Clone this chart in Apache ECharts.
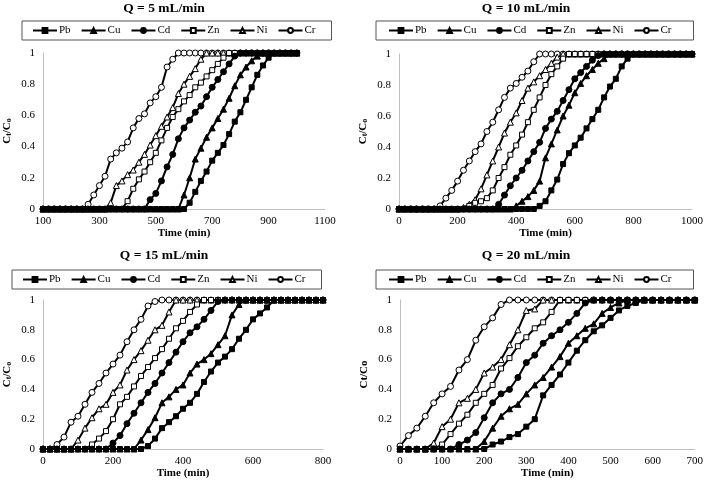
<!DOCTYPE html>
<html><head><meta charset="utf-8">
<script src="https://cdn.jsdelivr.net/npm/echarts@6/dist/echarts.min.js"></script>
<style>html,body{margin:0;padding:0;background:#fff}#c{width:706px;height:485px}</style>
</head><body><div id="c"></div>
<script>
// ---- categories / legend ----
const metals = ['Pb','Cu','Cd','Zn','Ni','Cr'];
const titles = ['Q = 5 mL/min','Q = 10 mL/min','Q = 15 mL/min','Q = 20 mL/min'];

// ---- sampling times (min) ----
const t5 = [100,120,140,160,180,200,220,240,260,280,300,320,340,360,380,400,420,440,460,480,500,520,540,560,580,600,620,640,660,680,700,720,740,760,780,800,820,840,860,880,900,920,940,960,980,1000];
const t10 = [0,20,40,60,80,100,120,140,160,180,200,220,240,260,280,300,320,340,360,380,400,420,440,460,480,500,520,540,560,580,600,620,640,660,680,700,720,740,760,780,800,820,840,860,880,900,920,940,960,980,1000];
const t15 = [0,20,40,60,80,100,120,140,160,180,200,220,240,260,280,300,320,340,360,380,400,420,440,460,480,500,520,540,560,580,600,620,640,660,680,700,720,740,760,780,800];
const t20 = [0,20,40,60,80,100,120,140,160,180,200,220,240,260,280,300,320,340,360,380,400,420,440,460,480,500,520,540,560,580,600,620,640,660,680,700];

// ---- Q = 5 mL/min : Ct/Co ----
const pb5 = [0,0,0,0,0,0,0,0,0,0, 0,0,0,0,0,0,0,0,0,0, 0,0,0,0,0,0,
  0.04,0.11,0.18,0.24,0.31,0.36,0.41,0.48,0.56,0.62,0.70,0.78,0.86,0.92,0.97,1, 1,1,1,1];
const cu5 = [0,0,0,0,0,0,0,0,0,0, 0,0,0,0,0,0,0,0,0,0, 0,0,0,0,0,
  0.09,0.20,0.32,0.39,0.46,0.52,0.58,0.64,0.71,0.79,0.86,0.91,0.95,0.98,1, 1,1,1,1,1,1];
const cd5 = [0,0,0,0,0,0,0,0,0,0, 0,0,0,0,0,0,0,0,0,
  0.06,0.10,0.18,0.27,0.35,0.45,0.52,0.57,0.62,0.66,0.72,0.78,0.83,0.88,0.93,0.98,1, 1,1,1,1,1,1,1,1,1,1];
const zn5 = [0,0,0,0,0,0,0,0,0,0, 0,0,0,0,0,
  0.05,0.13,0.19,0.24,0.30,0.36,0.44,0.52,0.59,0.64,0.69,0.73,0.78,0.81,0.85,0.89,0.93,0.97,1, 1,1,1,1,1,1,1,1,1,1,1,1];
const ni5 = [0,0,0,0,0,0,0,0,0,0, 0,0,
  0.04,0.15,0.18,0.22,0.25,0.30,0.35,0.41,0.47,0.53,0.59,0.65,0.74,0.80,0.85,0.90,0.96,1, 1,1,1,1,1,1,1,1,1,1,1,1,1,1,1,1];
const cr5 = [0,0,0,0,0,0,0,0,
  0.03,0.09,0.15,0.21,0.32,0.36,0.39,0.43,0.52,0.58,0.61,0.68,0.72,0.78,0.91,0.96,1, 1,1,1,1,1,1,1,1,1,1,1,1,1,1,1,1,1,1,1,1,1];

// ---- Q = 10 mL/min ----
const pb10 = [0,0,0,0,0,0,0,0,0,0, 0,0,0,0,0,0,0,0,0,0, 0,0,0,0,
  0.02,0.05,0.12,0.19,0.29,0.36,0.41,0.46,0.52,0.58,0.64,0.72,0.79,0.84,0.92,0.97,1, 1,1,1,1,1,1,1,1,1,1];
const cu10 = [0,0,0,0,0,0,0,0,0,0, 0,0,0,0,0,0,0,0,0,0,
  0.02,0.05,0.08,0.12,0.18,0.33,0.42,0.51,0.60,0.67,0.75,0.81,0.86,0.90,0.94,0.97,1, 1,1,1,1,1,1,1,1,1,1,1,1,1,1];
const cd10 = [0,0,0,0,0,0,0,0,0,0, 0,0,0,0,0,0,0,
  0.03,0.09,0.15,0.20,0.25,0.31,0.37,0.43,0.52,0.58,0.63,0.70,0.77,0.84,0.88,0.92,0.96,0.99,1, 1,1,1,1,1,1,1,1,1,1,1,1,1,1,1];
const zn10 = [0,0,0,0,0,0,0,0,0,0, 0,0,
  0.02,0.04,0.05,0.07,0.12,0.20,0.27,0.35,0.41,0.48,0.56,0.64,0.72,0.80,0.87,0.92,0.97,1, 1,1,1,1,1,1,1,1,1,1,1,1,1,1,1,1,1,1,1,1,1];
const ni10 = [0,0,0,0,0,0,0,0,0,0, 0,
  0.01,0.03,0.06,0.13,0.22,0.31,0.40,0.49,0.56,0.62,0.70,0.78,0.82,0.86,0.90,0.94,0.98,1, 1,1,1,1,1,1,1,1,1,1,1,1,1,1,1,1,1,1,1,1,1,1];
const cr10 = [0,0,0,0,0,0,0,
  0.02,0.07,0.12,0.18,0.25,0.31,0.37,0.42,0.50,0.56,0.64,0.72,0.78,0.81,0.85,0.89,0.95,1, 1,1,1,1,1,1,1,1,1,1,1,1,1,1,1,1,1,1,1,1,1,1,1,1,1,1];

// ---- Q = 15 mL/min ----
const pb15 = [0,0,0,0,0,0,0,0,0,0, 0,0,0,0,0,
  0.02,0.07,0.14,0.18,0.22,0.27,0.31,0.37,0.45,0.52,0.58,0.62,0.67,0.74,0.80,0.87,0.91,0.95,1, 1,1,1,1,1,1,1];
const cu15 = [0,0,0,0,0,0,0,0,0,0, 0,0,0,0,
  0.06,0.13,0.21,0.31,0.35,0.40,0.43,0.51,0.57,0.60,0.64,0.70,0.76,0.90,0.97,1, 1,1,1,1,1,1,1,1,1,1,1];
const cd15 = [0,0,0,0,0,0,0,0,0,0,
  0.04,0.09,0.17,0.24,0.31,0.38,0.44,0.51,0.58,0.65,0.72,0.78,0.82,0.87,0.93,0.99,1, 1,1,1,1,1,1,1,1,1,1,1,1,1,1];
const zn15 = [0,0,0,0,0,0,0,
  0.03,0.07,0.12,0.20,0.30,0.35,0.42,0.49,0.55,0.61,0.67,0.74,0.81,0.86,0.92,0.97,1, 1,1,1,1,1,1,1,1,1,1,1,1,1,1,1,1,1];
const ni15 = [0,0,0,0,0,
  0.06,0.14,0.21,0.27,0.30,0.38,0.43,0.53,0.60,0.66,0.73,0.80,0.83,0.92,1, 1,1,1,1,1,1,1,1,1,1,1,1,1,1,1,1,1,1,1,1,1];
const cr15 = [0,0,
  0.03,0.08,0.18,0.22,0.30,0.38,0.44,0.51,0.57,0.63,0.72,0.80,0.87,0.96,0.99,1, 1,1,1,1,1,1,1,1,1,1,1,1,1,1,1,1,1,1,1,1,1,1,1];

// ---- Q = 20 mL/min ----
const pb20 = [0,0,0,0,0,0,0,0,0,0, 0,
  0.03,0.05,0.08,0.10,0.15,0.20,0.36,0.43,0.50,0.58,0.66,0.73,0.79,0.83,0.88,0.93,0.96,0.98,1, 1,1,1,1,1,1];
const cu20 = [0,0,0,0,0,0,0,0,0,0,
  0.05,0.14,0.22,0.27,0.30,0.37,0.43,0.48,0.55,0.62,0.71,0.76,0.81,0.84,0.91,0.95,0.98,1, 1,1,1,1,1,1,1,1];
const cd20 = [0,0,0,0,0,0,0,
  0.03,0.06,0.11,0.21,0.31,0.37,0.40,0.48,0.58,0.63,0.71,0.76,0.80,0.85,0.91,0.98,1, 1,1,1,1,1,1,1,1,1,1,1,1];
const zn20 = [0,0,0,0,0,
  0.03,0.10,0.17,0.23,0.31,0.37,0.43,0.54,0.61,0.69,0.75,0.81,0.85,0.92,1, 1,1,1,1,1,1,1,1,1,1,1,1,1,1,1,1];
const ni20 = [0,0,0,0,
  0.04,0.15,0.20,0.31,0.34,0.40,0.51,0.55,0.60,0.70,0.80,0.93,0.94,1, 1,1,1,1,1,1,1,1,1,1,1,1,1,1,1,1,1,1];
const cr20 = [0.02,0.09,0.14,0.22,0.31,0.37,0.42,0.53,0.60,0.73,0.82,0.88,0.97,1,
  1,1,1,1,1,1,1,1,1,1,1,1,1,1,1,1,1,1,1,1,1,1];

// ---- panel definitions ----
const panels = [
  {times: t5,  data: {Pb: pb5,  Cu: cu5,  Cd: cd5,  Zn: zn5,  Ni: ni5,  Cr: cr5},  xMin: 100, xMax: 1100, xStep: 100, xLabelEvery: 200, sub: true},
  {times: t10, data: {Pb: pb10, Cu: cu10, Cd: cd10, Zn: zn10, Ni: ni10, Cr: cr10}, xMin: 0, xMax: 1000, xStep: 200, xLabelEvery: 200, sub: true},
  {times: t15, data: {Pb: pb15, Cu: cu15, Cd: cd15, Zn: zn15, Ni: ni15, Cr: cr15}, xMin: 0, xMax: 800, xStep: 200, xLabelEvery: 200, sub: true},
  {times: t20, data: {Pb: pb20, Cu: cu20, Cd: cd20, Zn: zn20, Ni: ni20, Cr: cr20}, xMin: 0, xMax: 700, xStep: 100, xLabelEvery: 100, sub: false}
];

// ---- layout (styles only) ----
const FONT = '"Liberation Serif", "Times New Roman", serif';
const grids = [
  {left: 43, right: 381, top: 53, bottom: 276},
  {left: 399, right: 11, top: 54, bottom: 276},
  {left: 43, right: 383, top: 300, bottom: 36},
  {left: 400, right: 11, top: 300, bottom: 36}
];
const titlePos = [[164, 2], [526, 2], [164, 249], [526, 249]];
const legendPos = [
  {left: 22, top: 21, padding: [4, 16, 4, 10]},
  {left: 376, top: 21, padding: [4, 22, 4, 12]},
  {left: 12, top: 270, padding: [4, 16, 4, 10]},
  {left: 376, top: 270, padding: [4, 22, 4, 12]}
];
const markerStyle = {
  Pb: {symbol: 'rect', size: 5, fill: '#000'},
  Cu: {symbol: 'triangle', size: 6, fill: '#000'},
  Cd: {symbol: 'circle', size: 6, fill: '#000'},
  Zn: {symbol: 'rect', size: 5, fill: '#fff'},
  Ni: {symbol: 'triangle', size: 6, fill: '#fff'},
  Cr: {symbol: 'circle', size: 6, fill: '#fff'}
};
const drawOrder = ['Cr', 'Ni', 'Zn', 'Cd', 'Cu', 'Pb'];

const option = {
  animation: false,
  backgroundColor: '#fff',
  grid: grids,
  graphic: titlePos.map((p, i) => ({
    type: 'text', x: p[0], y: p[1],
    style: {text: titles[i], textAlign: 'center', fill: '#000', font: 'bold 13.5px ' + FONT}
  })),
  legend: panels.map((p, i) => ({
    data: metals, left: legendPos[i].left, top: legendPos[i].top, padding: legendPos[i].padding,
    orient: 'horizontal', itemGap: 10, itemWidth: 24, itemHeight: 6,
    borderColor: '#555', borderWidth: 1, selectedMode: false,
    textStyle: {fontFamily: FONT, fontSize: 11, color: '#000', padding: [0, 0, 0, -3]}
  })),
  xAxis: panels.map((p, i) => ({
    type: 'value', gridIndex: i, min: p.xMin, max: p.xMax, interval: p.xStep,
    name: 'Time (min)', nameLocation: 'middle', nameGap: 16,
    nameTextStyle: {fontFamily: FONT, fontSize: 11, fontWeight: 'bold', color: '#000'},
    axisLine: {lineStyle: {color: '#bfbfbf', width: 1}},
    axisTick: {show: false}, splitLine: {show: false},
    axisLabel: {fontFamily: FONT, fontSize: 11, color: '#000', margin: 7,
      formatter: v => ((v - p.xMin) % p.xLabelEvery === 0 ? String(v) : '')}
  })),
  yAxis: panels.map((p, i) => ({
    type: 'value', gridIndex: i, min: 0, max: 1, interval: 0.2,
    name: p.sub ? '{a|C}{s|t}{a|/C}{s|o}' : 'Ct/Co', nameLocation: 'middle', nameGap: 30, nameRotate: 90,
    nameTextStyle: {fontFamily: FONT, fontSize: 11, fontWeight: 'bold', color: '#000',
      rich: {a: {fontFamily: FONT, fontSize: 11, fontWeight: 'bold', color: '#000', lineHeight: 14, verticalAlign: 'bottom'},
             s: {fontFamily: FONT, fontSize: 8, fontWeight: 'bold', color: '#000', lineHeight: 10, verticalAlign: 'bottom'}}},
    axisLine: {show: true, lineStyle: {color: '#bfbfbf', width: 1}},
    axisTick: {show: false}, splitLine: {show: false},
    axisLabel: {fontFamily: FONT, fontSize: 11, color: '#000', margin: 8}
  })),
  series: []
};

panels.forEach((p, i) => {
  drawOrder.forEach(m => {
    const ms = markerStyle[m];
    option.series.push({
      name: m, type: 'line', xAxisIndex: i, yAxisIndex: i,
      data: p.times.map((t, k) => [t, p.data[m][k]]),
      symbol: ms.symbol, symbolSize: ms.size, showAllSymbol: true,
      lineStyle: {color: '#000', width: 2},
      itemStyle: {color: ms.fill, borderColor: '#000', borderWidth: 1},
      emphasis: {disabled: true}
    });
  });
});

const chart = echarts.init(document.getElementById('c'), null, {renderer: 'canvas'});
chart.setOption(option);
</script>
</body></html>
